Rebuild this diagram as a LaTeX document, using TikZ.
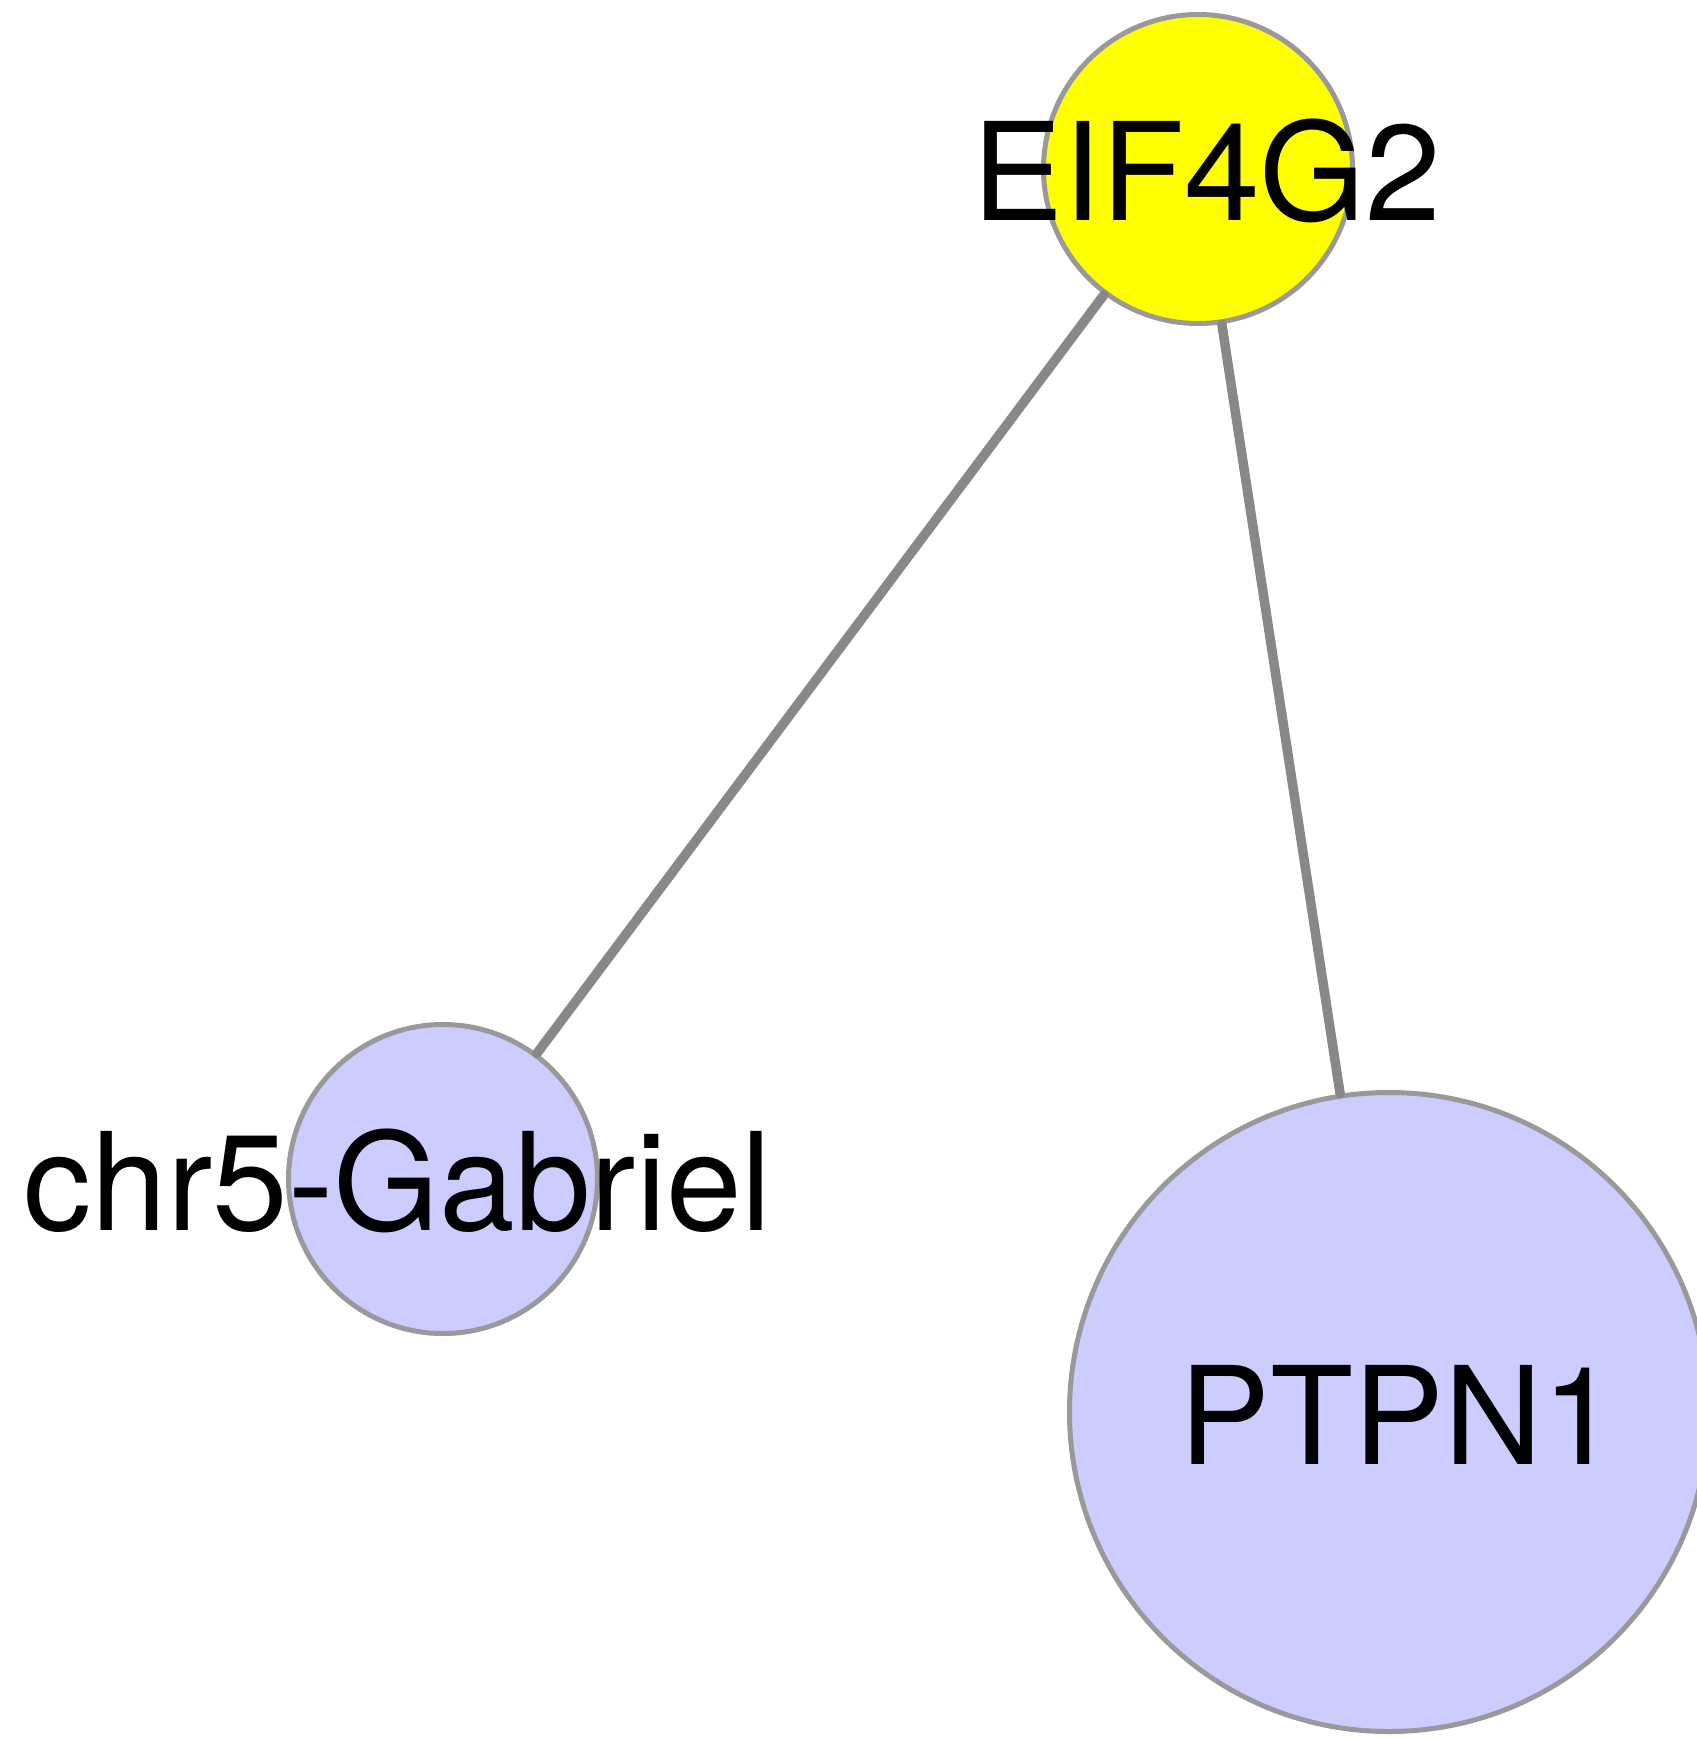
\documentclass[tikz,border=0pt]{standalone}
\usepackage{fontspec}
\setmainfont{TeX Gyre Heros}
\definecolor{edgegray}{HTML}{888888}
\definecolor{bordergray}{HTML}{999999}
\definecolor{lav}{HTML}{CCCCFF}
\definecolor{yel}{HTML}{FFFF00}
\tikzset{
  gene/.style={circle, draw=bordergray, line width=5pt, inner sep=0pt},
  genelabel/.style={anchor=base, inner sep=0pt, font=\fontsize{136}{136}\selectfont},
  link/.style={draw=edgegray, line width=9.5pt, line cap=round}
}
\begin{document}
\begin{tikzpicture}[x=1pt,y=-1pt]
\useasboundingbox (0,0) rectangle (1697,1738);
\node[gene, fill=yel, minimum size=309pt] (eif) at (1198,169) {};
\node[gene, fill=lav, minimum size=309pt] (chr) at (443,1179) {};
\node[gene, fill=lav, minimum size=639pt] (ptp) at (1389,1412) {};
\draw[link] (eif) -- (chr);
\draw[link] (eif) -- (ptp);
\node[genelabel] (eiflab) at (1207,220) {EIF4G2};
\node[genelabel] (chrlab) at (398,1230) {chr5-Gabriel};
\node[genelabel] (ptplab) at (1399,1464) {PTPN1};
\end{tikzpicture}
\end{document}
